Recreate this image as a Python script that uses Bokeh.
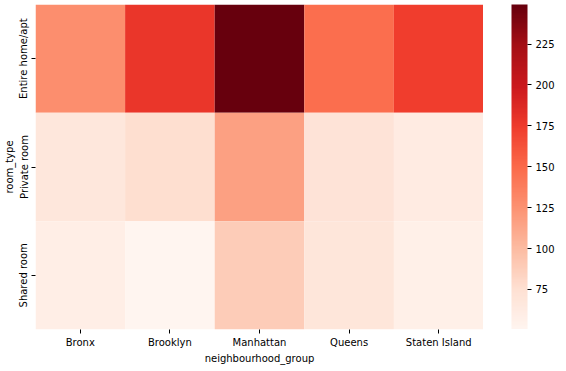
from bokeh.plotting import figure
from bokeh.layouts import row
from bokeh.models import (ColumnDataSource, LinearColorMapper, ColorBar, FixedTicker,
                          FactorRange)
from bokeh.palettes import Reds256
from bokeh.embed import file_html
from bokeh.resources import INLINE

neighbourhoods = ["Bronx", "Brooklyn", "Manhattan", "Queens", "Staten Island"]
room_types = ["Entire home/apt", "Private room", "Shared room"]
entire_home = [127.5, 178.3, 249.2, 147.1, 173.8]
private_room = [66.8, 76.5, 116.8, 71.8, 62.3]
shared_room = [59.8, 50.5, 89.0, 69.0, 57.4]
cbar_ticks = [75, 100, 125, 150, 175, 200, 225]

xs, ys, vals = [], [], []
for rt, r in zip(room_types, [entire_home, private_room, shared_room]):
    for nb, v in zip(neighbourhoods, r):
        xs.append(nb); ys.append(rt); vals.append(v)
src = ColumnDataSource(dict(x=xs, y=ys, v=vals))

palette = list(reversed(Reds256))
mapper = LinearColorMapper(palette=palette, low=min(vals), high=max(vals))

FONT = "DejaVu Sans"
p = figure(frame_width=448, frame_height=325, output_backend="svg", toolbar_location=None,
           x_range=FactorRange(*neighbourhoods),
           y_range=FactorRange(*reversed(room_types)),
           min_border_left=0, min_border_top=4, min_border_bottom=0, min_border_right=0)
p.rect(x="x", y="y", width=1, height=1, source=src,
       fill_color={"field": "v", "transform": mapper}, line_color=None)

p.outline_line_color = None
p.grid.grid_line_color = None
for ax in (p.xaxis[0], p.yaxis[0]):
    ax.axis_line_color = None
    ax.major_tick_out = 4
    ax.major_tick_in = 0
    ax.major_tick_line_color = "black"
    ax.major_label_text_font = FONT
    ax.major_label_text_font_size = "10px"
    ax.major_label_text_color = "black"
    ax.axis_label_text_font = FONT
    ax.axis_label_text_font_size = "10px"
    ax.axis_label_text_font_style = "normal"
    ax.axis_label_text_color = "black"
p.xaxis.axis_label = "neighbourhood_group"
p.yaxis.axis_label = "room_type"
p.yaxis.major_label_orientation = "vertical"
p.xaxis.axis_label_standoff = 2
p.yaxis.axis_label_standoff = 1
p.xaxis.major_label_standoff = 3
p.yaxis.major_label_standoff = 2

# narrow companion figure that only holds the colour bar
p2 = figure(frame_width=1, frame_height=325, output_backend="svg", toolbar_location=None,
            x_axis_location=None, y_axis_location=None,
            min_border_left=27, min_border_top=4, min_border_bottom=0, min_border_right=0)
p2.outline_line_color = None
p2.grid.grid_line_color = None

cb = ColorBar(color_mapper=mapper, ticker=FixedTicker(ticks=cbar_ticks),
              width=16, padding=0, margin=0, bar_line_color=None,
              major_tick_in=0, major_tick_out=4, major_tick_line_color="black",
              minor_tick_line_color=None,
              major_label_text_font=FONT, major_label_text_font_size="10px",
              major_label_text_color="black", label_standoff=4,
              border_line_color=None, background_fill_color=None)
p2.add_layout(cb, "right")

layout = row(p, p2)
open("out.html", "w").write(file_html(layout, INLINE))
